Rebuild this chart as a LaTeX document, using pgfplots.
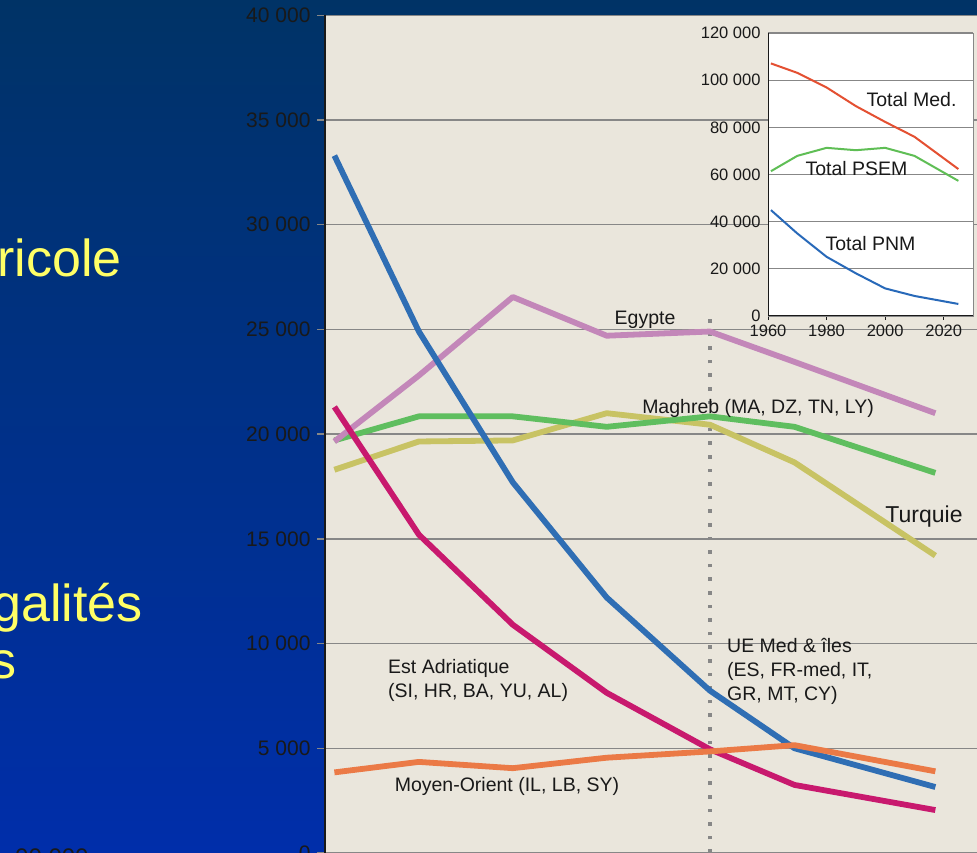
\documentclass[border=0pt]{standalone}
\usepackage{pgfplots}
\usepackage{pgfplotstable}
\pgfplotsset{compat=1.18}
\usepackage{fontspec}
\setmainfont{Liberation Sans}

\definecolor{navytop}{RGB}{0,51,102}
\definecolor{navybot}{RGB}{0,46,170}
\definecolor{plotbg}{RGB}{234,230,220}
\definecolor{gridgray}{RGB}{135,135,135}
\definecolor{axisdark}{RGB}{25,25,25}
\definecolor{labeldark}{RGB}{25,25,25}
\definecolor{slideyellow}{RGB}{255,255,102}
\definecolor{cUE}{RGB}{47,110,180}
\definecolor{cAdr}{RGB}{200,25,110}
\definecolor{cEgy}{RGB}{195,135,185}
\definecolor{cMag}{RGB}{95,190,95}
\definecolor{cTur}{RGB}{200,195,100}
\definecolor{cMO}{RGB}{235,122,70}
\definecolor{cMed}{RGB}{228,80,50}
\definecolor{cPSEM}{RGB}{95,190,85}
\definecolor{cPNM}{RGB}{40,105,185}

% Population agricole par region (milliers)
\pgfplotstableread{
year UE    Adr   Egy   Mag   Tur   MO
1961 33300 21300 19650 19700 18300 3850
1970 24900 15200 22800 20850 19650 4350
1980 17700 10900 26550 20850 19700 4050
1990 12200 7650  24700 20350 21000 4550
2001 7750  4950  24900 20850 20450 4850
2010 5000  3250  23450 20350 18650 5150
2025 3150  2050  21000 18150 14200 3900
}\regions

% Totaux
\pgfplotstableread{
year Med    PSEM  PNM
1961 107100 61400 44900
1970 103100 67900 35000
1980 96900  71300 25100
1990 89000  70300 18100
2000 82300  71300 11700
2010 76000  67900 8500
2025 62300  57300 5100
}\totals

\newcommand{\ticksize}{\fontsize{21}{25}\selectfont}
\newcommand{\labsize}{\fontsize{19.5}{24}\selectfont}

\begin{document}
\begin{tikzpicture}[x=1pt,y=1pt]
\path[use as bounding box] (0,0) rectangle (977,852);
\begin{scope}
\clip (0,0) rectangle (977,852);
\shade[top color=navytop, bottom color=navybot] (0,0) rectangle (977,852);

% slide text on the left
\node[anchor=base east, text=slideyellow, font=\fontsize{52}{56}\selectfont, inner sep=0pt] at (122,575) {ricole};
\node[anchor=base east, text=slideyellow, font=\fontsize{52}{56}\selectfont, inner sep=0pt] at (143,230) {galités};
\node[anchor=base east, text=slideyellow, font=\fontsize{52}{56}\selectfont, inner sep=0pt] at (17,174) {s};
\node[anchor=north west, text=labeldark, font=\fontsize{24}{28}\selectfont, inner sep=0pt] at (15,3) {00 000};

\begin{axis}[
  at={(325pt,-1pt)}, anchor=south west,
  scale only axis, width=666.7pt, height=837.7pt,
  xmin=1960, xmax=2031, ymin=0, ymax=40000,
  scaled y ticks=false,
  axis background/.style={fill=plotbg},
  axis x line*=bottom, axis y line*=left,
  x axis line style={draw=none},
  y axis line style={draw=axisdark, line width=2.5pt, -},
  xtick=\empty,
  ytick={0,5000,...,40000},
  yticklabels={0,5 000,10 000,15 000,20 000,25 000,30 000,35 000,40 000},
  yticklabel style={font=\ticksize, text=labeldark, xshift=-3pt},
  ymajorgrids, grid style={gridgray, line width=1.3pt},
  y tick style={draw=gridgray, line width=1.3pt},
  tick align=outside, major tick length=8pt,
  every axis plot/.append style={line width=5.8pt, line join=round, line cap=butt},
]
\draw[gridgray, line width=3.6pt, dash pattern=on 3.6pt off 10pt] (axis cs:2001,0) -- (axis cs:2001,25800);
\addplot[cTur] table[x=year, y=Tur] {\regions};
\addplot[cMag] table[x=year, y=Mag] {\regions};
\addplot[cEgy] table[x=year, y=Egy] {\regions};
\addplot[cUE]  table[x=year, y=UE]  {\regions};
\addplot[cAdr] table[x=year, y=Adr] {\regions};
\addplot[cMO]  table[x=year, y=MO]  {\regions};
\end{axis}

% region labels
\node[anchor=base, text=labeldark, font=\labsize, inner sep=0pt] at (645,527) {Egypte};
\node[anchor=base, text=labeldark, font=\labsize, inner sep=0pt] at (758,438) {Maghreb (MA, DZ, TN, LY)};
\node[anchor=base, text=labeldark, font=\fontsize{23}{27}\selectfont, inner sep=0pt] at (924,329.3) {Turquie};
\node[anchor=base west, text=labeldark, font=\labsize, inner sep=0pt] at (388,179) {Est Adriatique};
\node[anchor=base west, text=labeldark, font=\labsize, inner sep=0pt] at (388,155) {(SI, HR, BA, YU, AL)};
\node[anchor=base west, text=labeldark, font=\labsize, inner sep=0pt] at (727,200) {UE Med \& îles};
\node[anchor=base west, text=labeldark, font=\labsize, inner sep=0pt] at (727,176) {(ES, FR-med, IT,};
\node[anchor=base west, text=labeldark, font=\labsize, inner sep=0pt] at (727,152) {GR, MT, CY)};
\node[anchor=base west, text=labeldark, font=\labsize, inner sep=0pt] at (394.6,61) {Moyen-Orient (IL, LB, SY)};

% inset: totals
\begin{axis}[
  at={(768pt,536pt)}, anchor=south west,
  scale only axis, width=205pt, height=283pt,
  xmin=1960, xmax=2030, ymin=0, ymax=120000,
  scaled y ticks=false,
  axis background/.style={fill=white},
  xtick={1960,1980,2000,2020},
  xticklabels={1960,1980,2000,2020},
  xtick pos=lower,
  ytick={0,20000,...,120000},
  yticklabels={0,20 000,40 000,60 000,80 000,100 000,120 000},
  tick label style={font=\fontsize{16.5}{19}\selectfont, text=labeldark},
  xticklabel style={yshift=-1pt},
  ymajorgrids, grid style={gridgray, line width=1pt},
  axis line style={gridgray, line width=0.8pt},
  y tick style={draw=none},
  x tick style={draw=axisdark, line width=0.8pt},
  tick align=outside, major tick length=4pt,
  every axis plot/.append style={line width=2pt, line join=round},
]
\draw[axisdark, line width=1pt] (rel axis cs:0,1) -- (rel axis cs:0,0) -- (rel axis cs:1,0);
\addplot[cMed]  table[x=year, y=Med]  {\totals};
\addplot[cPSEM] table[x=year, y=PSEM] {\totals};
\addplot[cPNM]  table[x=year, y=PNM]  {\totals};
\end{axis}

\node[anchor=base, text=labeldark, font=\labsize, inner sep=0pt] at (911.5,745.3) {Total Med.};
\node[anchor=base, text=labeldark, font=\labsize, inner sep=0pt] at (856.5,676.3) {Total PSEM};
\node[anchor=base, text=labeldark, font=\labsize, inner sep=0pt] at (870.5,601.3) {Total PNM};
\end{scope}
\end{tikzpicture}
\end{document}
